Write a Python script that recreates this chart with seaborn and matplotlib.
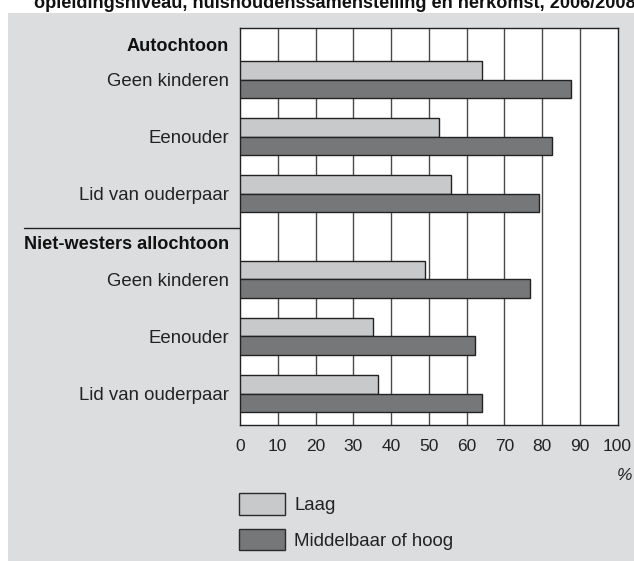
import pandas as pd
import matplotlib.pyplot as plt
import seaborn as sns
from matplotlib.patches import Rectangle, Patch
from matplotlib.lines import Line2D

# Data
herkomst = ['Autochtoon', 'Niet-westers allochtoon']
huishouden = ['Geen kinderen', 'Eenouder', 'Lid van ouderpaar']
niveaus = ['Laag', 'Middelbaar of hoog']
laag = [64.2, 52.8, 55.8, 48.9, 35.3, 36.5]
middelbaar_hoog = [87.7, 82.6, 79.1, 76.9, 62.3, 64.0]
xticks = [0, 10, 20, 30, 40, 50, 60, 70, 80, 90, 100]
titel = 'opleidingsniveau, huishoudenssamenstelling en herkomst, 2006/2008'

# rijposities (lay-out): tweede blok iets verder omlaag
rijen = [0, 1, 2, 3.5, 4.5, 5.5]
kop_pos = [-0.62, 2.86]

df = pd.DataFrame({
    'pos': rijen * 2,
    'niveau': [niveaus[0]] * 6 + [niveaus[1]] * 6,
    'waarde': laag + middelbaar_hoog,
})

sns.set_style('white')
plt.rcParams['font.family'] = ['Liberation Sans', 'DejaVu Sans']

licht = '#c8c9cb'
donker = '#767779'
paneel = '#dcdddf'

fig = plt.figure(figsize=(6.34, 5.61), dpi=100)
fig.patches.append(Rectangle((8 / 634, 0.5 / 561), 1, 548 / 561, transform=fig.transFigure,
                             facecolor=paneel, edgecolor='none', zorder=-5))
fig.text(34 / 634, 1 - 8 / 561, titel, fontsize=13.1, fontweight='bold', color='#111', va='baseline')

ax = fig.add_axes([240 / 634, 1 - 425 / 561, 377.5 / 634, 397 / 561])
ax.set_zorder(1)
ax.set_facecolor('white')

sns.barplot(data=df, x='waarde', y='pos', hue='niveau', hue_order=niveaus, orient='h',
            native_scale=True, width=0.657, palette=[licht, donker], edgecolor='#222222',
            linewidth=1.0, legend=False, ax=ax, zorder=3)

ax.set_xlim(0, 100)
ax.set_ylim(6.051, -0.902)
ax.set_xticks(xticks)
ax.set_xticklabels([str(t) for t in xticks], fontsize=12.5, color='#222')
for t in xticks[1:-1]:
    ax.axvline(t, color='#4a4a4a', lw=1.0, zorder=1)

ypos = [kop_pos[0]] + rijen[:3] + [kop_pos[1]] + rijen[3:]
ylab = [herkomst[0]] + huishouden + [herkomst[1]] + huishouden
ax.set_yticks(ypos)
ax.set_yticklabels(ylab, fontsize=13.4, color='#222')
for lab in ax.get_yticklabels():
    if lab.get_text() in herkomst:
        lab.set_fontweight('bold')
        lab.set_fontsize(13.1)
        lab.set_color('#111')
ax.tick_params(axis='y', length=0, pad=8)
ax.tick_params(axis='x', direction='out', length=5, width=1, color='#222', pad=5)
ax.set_xlabel('')
ax.set_ylabel('')
for s in ax.spines.values():
    s.set_color('#222')
    s.set_linewidth(1.0)

# scheidingslijn tussen de twee blokken
fig.add_artist(Line2D([24 / 634, 240 / 634], [1 - 228 / 561, 1 - 228 / 561],
                      color='#222', lw=1.0))

fig.text(625 / 634, 1 - 476 / 561, '%', fontsize=12.5, style='italic', color='#222',
         ha='center', va='center')

handles = [Patch(facecolor=licht, edgecolor='#2a2a2a', lw=1.0),
           Patch(facecolor=donker, edgecolor='#2a2a2a', lw=1.0)]
fig.legend(handles, niveaus, loc='upper left', bbox_to_anchor=(239 / 634, 1 - 493 / 561),
           frameon=False, fontsize=13.4, handlelength=2.47, handleheight=1.42,
           handletextpad=0.5, labelspacing=0.75, borderpad=0, borderaxespad=0,
           labelcolor='#222')

fig.savefig('out.png', dpi=100)
